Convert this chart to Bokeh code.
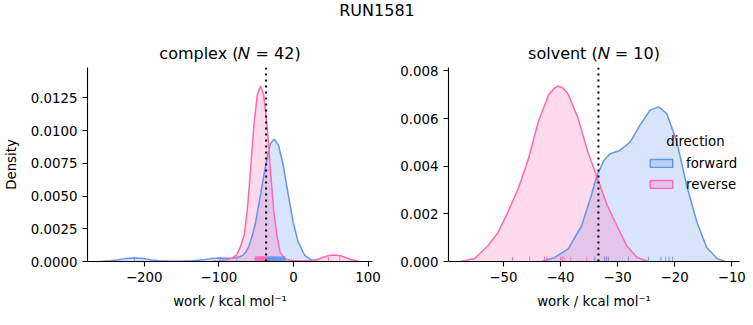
from bokeh.plotting import figure
from bokeh.layouts import column, row
from bokeh.models import Range1d, FixedTicker, Span, Label, Legend, LegendItem
from bokeh.embed import file_html
from bokeh.resources import INLINE

FONT = "DejaVu Sans"
BLUE = "#6495ED"
PINK = "#FF69B4"
FS = "13.33px"
TFS = "16px"

suptitle = "RUN1581"
legend_title = "direction"
directions = ["forward", "reverse"]
xlabel = "work / kcal mol\u207b\u00b9"
ylabel = "Density"

# ---------------- complex panel ----------------
complex_title = "complex (\U0001D441 = 42)"
complex_fwd_x = [-258.6, -245, -235, -225, -213, -200, -190, -180, -165, -150, -135, -120, -110, -100,
                 -90, -80, -72, -68, -64, -59.5, -55, -50.7, -44.1, -37.5, -31, -25.7, -20, -13.4,
                 -6.9, -0.3, 6.3, 15.2, 24, 30]
complex_fwd_d = [0.0, 0.00005, 0.00013, 0.00022, 0.00027, 0.00022, 0.00012, 0.00005, 0.00001, 0.00001,
                 0.00005, 0.00014, 0.00022, 0.00026, 0.00025, 0.00026, 0.00036, 0.00046, 0.0007, 0.0012,
                 0.002, 0.003, 0.0051, 0.0073, 0.009, 0.00934, 0.0089, 0.0073, 0.0051, 0.003, 0.0015,
                 0.00046, 0.00013, 0.0]
complex_rev_x = [-109, -100, -90, -83, -76, -72, -66, -61.7, -57.3, -53, -48.5, -44.1, -39.8, -35.3,
                 -31, -26.6, -22.1, -17.8, -11.2, -2.4, 10, 20, 25, 32, 40, 47, 55, 63, 70, 77, 84, 89]
complex_rev_d = [0.0, 0.00006, 0.00014, 0.00024, 0.0005, 0.001, 0.002, 0.004, 0.0071, 0.0104, 0.0127,
                 0.01342, 0.0127, 0.0104, 0.0071, 0.004, 0.002, 0.0007, 0.0002, 0.00008, 0.00003,
                 0.00003, 0.00005, 0.00015, 0.00032, 0.00045, 0.0005, 0.00044, 0.0003, 0.00015,
                 0.00005, 0.0]
complex_fwd_rug = [-213, -98, -36.5, -35.8, -35.2, -34.4, -33.9, -33.1, -32.6, -32.0, -31.4, -30.9,
                   -30.2, -29.8, -29.1, -28.7, -28.0, -27.6, -27.1, -26.5, -26.0, -25.6, -25.0, -24.4,
                   -23.9, -23.3, -22.8, -22.1, -21.5, -20.9, -20.2, -19.6, -18.8, -18.1, -17.3, -16.5,
                   -15.6, -14.8, -13.9, -13.0, -12.1, -11.2]
complex_rev_rug = [-76, 47, 62, -51.5, -50.8, -50.2, -49.6, -49.1, -48.5, -48.0, -47.6, -47.1, -46.7,
                   -46.3, -45.9, -45.5, -45.1, -44.8, -44.4, -44.0, -43.7, -43.3, -43.0, -42.6, -42.3,
                   -41.9, -41.6, -41.2, -40.9, -40.5, -40.1, -39.8, -39.4, -39.0, -38.6, -38.2, -37.8,
                   -37.4, -37.0, -36.7, -36.4]
complex_ref = -36.6
complex_xticks = [-200, -100, 0, 100]
complex_xtick_labels = ["\u2212200", "\u2212100", "0", "100"]
complex_yticks = [0.0, 0.0025, 0.005, 0.0075, 0.01, 0.0125]
complex_ytick_labels = ["0.0000", "0.0025", "0.0050", "0.0075", "0.0100", "0.0125"]

# ---------------- solvent panel ----------------
solvent_title = "solvent (\U0001D441 = 10)"
solvent_fwd_x = [-43.3, -41.0, -38.65, -36.3, -34.6, -33.6, -32.4, -31.3, -29.6, -27.8, -26.1, -24.3,
                 -22.8, -21.4, -19.6, -17.9, -16.1, -14.4, -12.6, -11.2]
solvent_fwd_d = [0.0, 0.00017, 0.00053, 0.0015, 0.00277, 0.00361, 0.00424, 0.00452, 0.00466, 0.00501,
                 0.00571, 0.00635, 0.00649, 0.00621, 0.00501, 0.00319, 0.00165, 0.00059, 0.00013, 0.0]
solvent_rev_x = [-57.4, -55.0, -52.7, -50.9, -49.2, -47.4, -45.6, -43.9, -42.1, -41.2, -40.4, -39.6,
                 -38.7, -36.9, -35.2, -33.7, -31.8, -30.1, -28.4, -26.6, -24.6]
solvent_rev_d = [0.0, 0.00013, 0.00066, 0.00122, 0.00207, 0.00305, 0.00431, 0.00585, 0.00698, 0.00725,
                 0.00737, 0.00728, 0.00705, 0.0060, 0.00459, 0.00361, 0.00235, 0.0015, 0.00066,
                 0.00017, 0.0]
solvent_fwd_rug = [-34.0, -32.3, -31.9, -31.6, -28.1, -24.6, -22.4, -21.6, -21.0, -20.4]
solvent_rev_rug = [-48.4, -45.4, -42.8, -42.4, -40.0, -39.7, -39.4, -38.2, -35.4, -32.0]
solvent_ref = -33.35
solvent_xticks = [-50, -40, -30, -20, -10]
solvent_xtick_labels = ["\u221250", "\u221240", "\u221230", "\u221220", "\u221210"]
solvent_yticks = [0.0, 0.002, 0.004, 0.006, 0.008]
solvent_ytick_labels = ["0.000", "0.002", "0.004", "0.006", "0.008"]


def style_axes(p, xticks, xlabels, yticks, ylabels, show_ylabel):
    p.outline_line_color = None
    p.grid.grid_line_color = None
    p.title.text_font = FONT
    p.title.text_font_size = TFS
    p.title.text_font_style = "normal"
    p.title.align = "center"
    p.title.text_color = "black"
    p.xaxis.ticker = FixedTicker(ticks=xticks)
    p.xaxis.major_label_overrides = dict(zip(xticks, xlabels))
    p.yaxis.ticker = FixedTicker(ticks=yticks)
    p.yaxis.major_label_overrides = dict(zip(yticks, ylabels))
    p.xaxis.axis_label = xlabel
    if show_ylabel:
        p.yaxis.axis_label = ylabel
    for ax in (p.xaxis, p.yaxis):
        ax.axis_line_width = 1.1
        ax.axis_line_color = "black"
        ax.major_tick_line_width = 1.1
        ax.major_tick_line_color = "black"
        ax.major_tick_out = 5
        ax.major_tick_in = 0
        ax.minor_tick_line_color = None
        ax.major_label_text_font = FONT
        ax.major_label_text_font_size = FS
        ax.major_label_text_color = "black"
        ax.axis_label_text_font = FONT
        ax.axis_label_text_font_size = FS
        ax.axis_label_text_font_style = "normal"
        ax.axis_label_text_color = "black"
        ax.major_label_standoff = 5
    p.xaxis.axis_label_standoff = 9
    p.yaxis.axis_label_standoff = 9


def draw_panel(p, fx, fd, rx, rd, frug, rrug, ref, rug_h):
    p.varea(x=fx, y1=0, y2=fd, fill_color=BLUE, fill_alpha=0.25)
    p.varea(x=rx, y1=0, y2=rd, fill_color=PINK, fill_alpha=0.25)
    p.line(fx, fd, line_color=BLUE, line_width=1.5)
    p.line(rx, rd, line_color=PINK, line_width=1.5)
    p.segment(x0=frug, y0=[0] * len(frug), x1=frug, y1=[rug_h] * len(frug),
              line_color=BLUE, line_width=1, line_alpha=0.9)
    p.segment(x0=rrug, y0=[0] * len(rrug), x1=rrug, y1=[rug_h] * len(rrug),
              line_color=PINK, line_width=1, line_alpha=0.9)
    p.add_layout(Span(location=ref, dimension="height", line_color="black",
                      line_dash="2 4", line_width=2))


# header with the figure title
header = figure(width=753, height=30, x_range=Range1d(0, 753), y_range=Range1d(0, 30),
                x_axis_location=None, y_axis_location=None, toolbar_location=None,
                output_backend="svg", min_border=0)
header.outline_line_color = None
header.grid.grid_line_color = None
header.add_layout(Label(x=376.5, y=20, text=suptitle, text_align="center", text_baseline="middle",
                        text_font=FONT, text_font_size=TFS, text_color="black"))

c_ytop = 0.01483
s_ytop = 0.00814

p1 = figure(width=395, height=295, x_range=Range1d(-276, 106), y_range=Range1d(0, c_ytop),
            toolbar_location=None, output_backend="svg", title=complex_title,
            min_border_left=84, min_border_right=23, min_border_top=37, min_border_bottom=64)
style_axes(p1, complex_xticks, complex_xtick_labels, complex_yticks, complex_ytick_labels, True)
draw_panel(p1, complex_fwd_x, complex_fwd_d, complex_rev_x, complex_rev_d,
           complex_fwd_rug, complex_rev_rug, complex_ref, c_ytop * 0.025)

p2 = figure(width=358, height=295, x_range=Range1d(-59.6, -8.65), y_range=Range1d(0, s_ytop),
            toolbar_location=None, output_backend="svg", title=solvent_title,
            min_border_left=53, min_border_right=14, min_border_top=37, min_border_bottom=64)
style_axes(p2, solvent_xticks, solvent_xtick_labels, solvent_yticks, solvent_ytick_labels, False)
draw_panel(p2, solvent_fwd_x, solvent_fwd_d, solvent_rev_x, solvent_rev_d,
           solvent_fwd_rug, solvent_rev_rug, solvent_ref, s_ytop * 0.025)

# legend proxies: one invisible (NaN) patch each, only shown in the legend
nan = float("nan")
rf = p2.quad(left=[nan], right=[nan], top=[nan], bottom=[nan], fill_color=BLUE, fill_alpha=0.25,
             line_color=BLUE, line_width=1.5)
rr = p2.quad(left=[nan], right=[nan], top=[nan], bottom=[nan], fill_color=PINK, fill_alpha=0.25,
             line_color=PINK, line_width=1.5)
legend = Legend(items=[LegendItem(label=directions[0], renderers=[rf]),
                       LegendItem(label=directions[1], renderers=[rr])],
                location=(199, 67), padding=0, margin=0, spacing=1,
                glyph_width=28, glyph_height=10, label_standoff=11, label_height=20,
                label_text_font=FONT, label_text_font_size=FS, label_text_color="black",
                background_fill_alpha=0, border_line_color=None)
p2.add_layout(legend)
p2.add_layout(Label(x=-16.36, y=0.00504, text=legend_title, text_align="center",
                    text_baseline="middle", text_font=FONT, text_font_size=FS,
                    text_color="black"))

layout = column(header, row(p1, p2, spacing=0), spacing=0)
open("out.html", "w").write(file_html(layout, INLINE))
